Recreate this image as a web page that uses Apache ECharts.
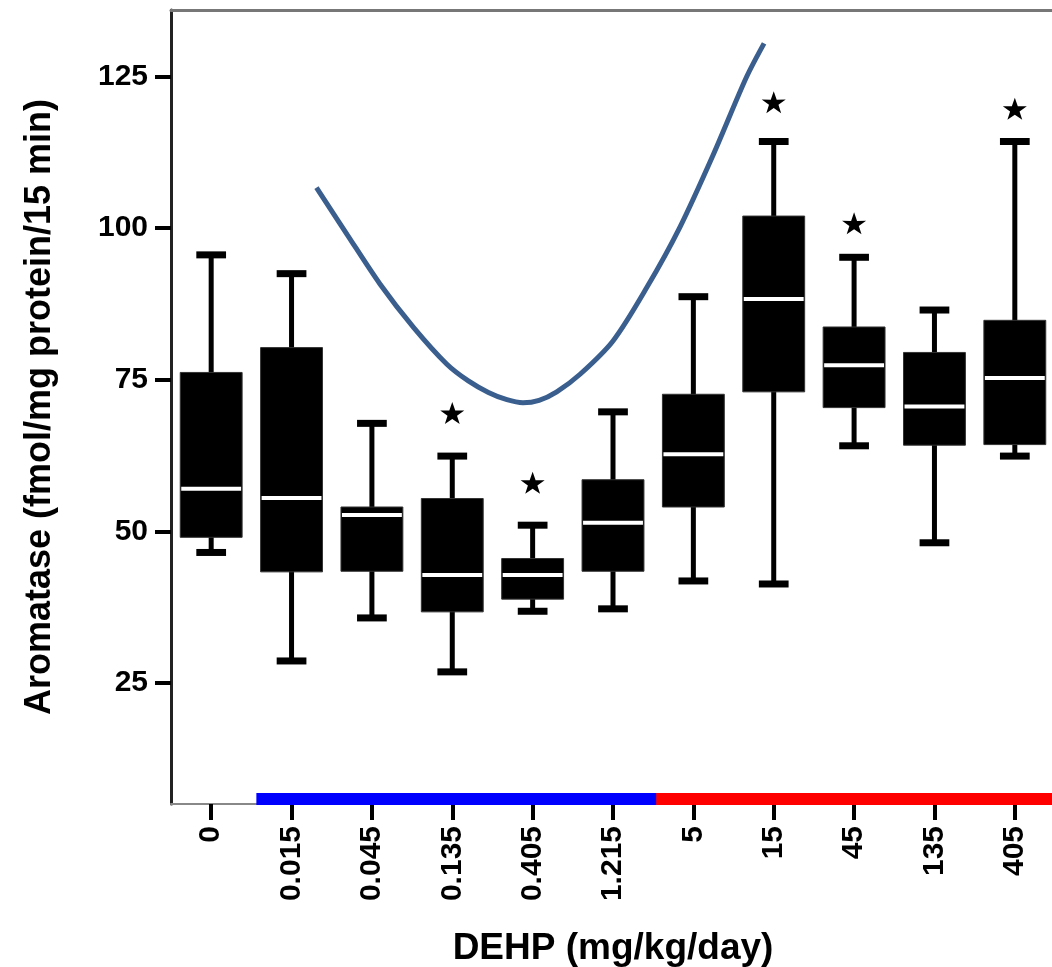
<!DOCTYPE html>
<html>
<head>
<meta charset="utf-8">
<script src="https://cdn.jsdelivr.net/npm/echarts@6/dist/echarts.min.js"></script>
<style>
  html, body { margin: 0; padding: 0; background: #fff; }
  #chart { width: 1052px; height: 967px; }
</style>
</head>
<body>
<div id="chart"></div>
<script>
// DEHP dose groups (mg/kg/day)
const doses = ['0', '0.015', '0.045', '0.135', '0.405', '1.215', '5', '15', '45', '135', '405'];

// Aromatase activity (fmol/mg protein/15 min), box-and-whisker summary per dose
const whiskerLow  = [46.5, 28.6, 35.7, 26.8, 36.8, 37.2, 41.8, 41.3, 64.1, 48.1, 62.4];
const quartile1   = [49.0, 43.3, 43.4, 36.7, 38.8, 43.4, 54.0, 73.0, 70.4, 64.2, 64.3];
const medians     = [57.0, 55.5, 52.7, 42.8, 42.8, 51.4, 62.7, 88.3, 77.4, 70.6, 75.3];
const quartile3   = [76.2, 80.3, 54.0, 55.4, 45.5, 58.5, 72.6, 102.0, 83.7, 79.5, 84.8];
const whiskerHigh = [95.6, 92.5, 67.8, 62.4, 51.0, 69.7, 88.7, 114.3, 95.2, 86.5, 114.3];

// Significance markers: dose group and height of the star
const starDoses  = ['0.135', '0.405', '15', '45', '405'];
const starValues = [69.5, 58.0, 120.8, 100.8, 119.7];

// Non-monotonic dose-response sketch (x in dose-group units, y in activity units)
const curveX = [1.31, 1.69, 2.10, 2.52, 2.93, 3.20, 3.45, 3.68, 3.88, 4.08, 4.30, 4.59, 5.00, 5.42, 5.83, 6.25, 6.66, 6.88];
const curveY = [106.7, 99.0, 90.8, 83.6, 77.6, 74.8, 72.9, 71.7, 71.2, 71.6, 73.0, 75.9, 81.4, 90.2, 100.1, 112.2, 124.9, 130.5];

// Low-dose and high-dose ranges (first and last dose group index)
const lowDoseRange  = [1, 5];
const highDoseRange = [6, 10];

const yTicks = [25, 50, 75, 100, 125];

const FONT = "'Liberation Sans', Arial, sans-serif";

const boxData = doses.map((d, i) => [d, whiskerLow[i], quartile1[i], medians[i], quartile3[i], whiskerHigh[i]]);
const starData = starDoses.map((d, i) => [d, starValues[i]]);
const curveData = curveX.map((x, i) => [x, curveY[i]]);

const chart = echarts.init(document.getElementById('chart'), null, { renderer: 'canvas' });

chart.setOption({
  animation: false,
  backgroundColor: '#fff',
  grid: { left: 171, top: 10, width: 884, height: 794, containLabel: false, outerBoundsMode: 'none' },
  xAxis: [
    {
      type: 'category',
      data: doses,
      position: 'bottom',
      boundaryGap: true,
      axisLine: { show: true, lineStyle: { color: '#888', width: 2 } },
      axisTick: { show: true, alignWithLabel: true, length: 16, lineStyle: { color: '#000', width: 4 } },
      axisLabel: {
        rotate: 90, margin: 22, color: '#000',
        fontFamily: FONT, fontSize: 30, fontWeight: 'bold', interval: 0
      },
      splitLine: { show: false },
      name: 'DEHP (mg/kg/day)',
      nameLocation: 'middle',
      nameGap: 126,
      nameTextStyle: { fontFamily: FONT, fontSize: 37, fontWeight: 'bold', color: '#000' }
    },
    {
      // continuous scale sharing the grid, used for the response curve; drawn as the top frame
      type: 'value',
      position: 'top',
      min: -0.5,
      max: 10.5,
      axisLine: { show: true, onZero: false, lineStyle: { color: '#777', width: 3 } },
      axisTick: { show: false },
      axisLabel: { show: false },
      splitLine: { show: false }
    }
  ],
  yAxis: {
    type: 'value',
    min: 5,
    max: 136,
    axisLine: { show: true, onZero: false, lineStyle: { color: '#222', width: 3 } },
    axisTick: { show: true, length: 16, customValues: yTicks, lineStyle: { color: '#000', width: 4 } },
    axisLabel: {
      customValues: yTicks, margin: 23, color: '#000',
      fontFamily: FONT, fontSize: 30, fontWeight: 'bold'
    },
    splitLine: { show: false },
    name: 'Aromatase (fmol/mg protein/15 min)',
    nameLocation: 'middle',
    nameGap: 113,
    nameTextStyle: { fontFamily: FONT, fontSize: 36, fontWeight: 'bold', color: '#000' }
  },
  series: [
    {
      name: 'Aromatase',
      type: 'custom',
      xAxisIndex: 0,
      yAxisIndex: 0,
      data: boxData,
      encode: { x: 0, y: [1, 2, 3, 4, 5] },
      clip: false,
      renderItem: function (params, api) {
        const cat = api.value(0);
        const lo = api.coord([cat, api.value(1)]);
        const q1 = api.coord([cat, api.value(2)]);
        const med = api.coord([cat, api.value(3)]);
        const q3 = api.coord([cat, api.value(4)]);
        const hi = api.coord([cat, api.value(5)]);
        const band = api.size([1, 0])[0];
        const bw = band * 0.77;
        const cw = band * 0.37;
        const x = lo[0];
        return {
          type: 'group',
          children: [
            { type: 'line', shape: { x1: x, y1: hi[1], x2: x, y2: lo[1] }, style: { stroke: '#000', lineWidth: 5 } },
            { type: 'line', shape: { x1: x - cw / 2, y1: hi[1], x2: x + cw / 2, y2: hi[1] }, style: { stroke: '#000', lineWidth: 7 } },
            { type: 'line', shape: { x1: x - cw / 2, y1: lo[1], x2: x + cw / 2, y2: lo[1] }, style: { stroke: '#000', lineWidth: 7 } },
            { type: 'rect', shape: { x: x - bw / 2, y: q3[1], width: bw, height: q1[1] - q3[1] }, style: { fill: '#000', stroke: '#333', lineWidth: 1 } },
            { type: 'line', shape: { x1: x - bw / 2 + 1, y1: med[1], x2: x + bw / 2 - 1, y2: med[1] }, style: { stroke: '#fff', lineWidth: 4 } }
          ]
        };
      }
    },
    {
      name: 'significance',
      type: 'scatter',
      xAxisIndex: 0,
      yAxisIndex: 0,
      data: starData,
      symbol: 'path://M50,0 L61.8,35.1 L97.6,34.5 L68.8,56 L79.4,90.5 L50,69.5 L20.6,90.5 L31.2,56 L2.4,34.5 L38.2,35.1 Z',
      symbolSize: [24, 22],
      itemStyle: { color: '#000', opacity: 1 },
      z: 5
    },
    {
      name: 'trend',
      type: 'line',
      xAxisIndex: 1,
      yAxisIndex: 0,
      data: curveData,
      smooth: 0.3,
      showSymbol: false,
      symbol: 'none',
      lineStyle: { color: '#3a5f8e', width: 5 },
      z: 4
    },
    {
      name: 'dose ranges',
      type: 'custom',
      xAxisIndex: 0,
      yAxisIndex: 0,
      data: [
        [lowDoseRange[0], lowDoseRange[1], 0],
        [highDoseRange[0], highDoseRange[1], 1]
      ],
      encode: { x: [0, 1] },
      clip: false,
      z: 10,
      renderItem: function (params, api) {
        const band = api.size([1, 0])[0];
        const yBase = api.coord([0, 5])[1];
        const x0 = api.coord([api.value(0), 5])[0] - band / 2;
        const x1 = api.coord([api.value(1), 5])[0] + band / 2;
        const colors = ['#0000ff', '#ff0000'];
        return {
          type: 'rect',
          shape: { x: x0 + (api.value(2) === 0 ? 5 : 3), y: yBase - 11, width: x1 - x0, height: 12 },
          style: { fill: colors[api.value(2)] }
        };
      }
    }
  ]
});
</script>
</body>
</html>
